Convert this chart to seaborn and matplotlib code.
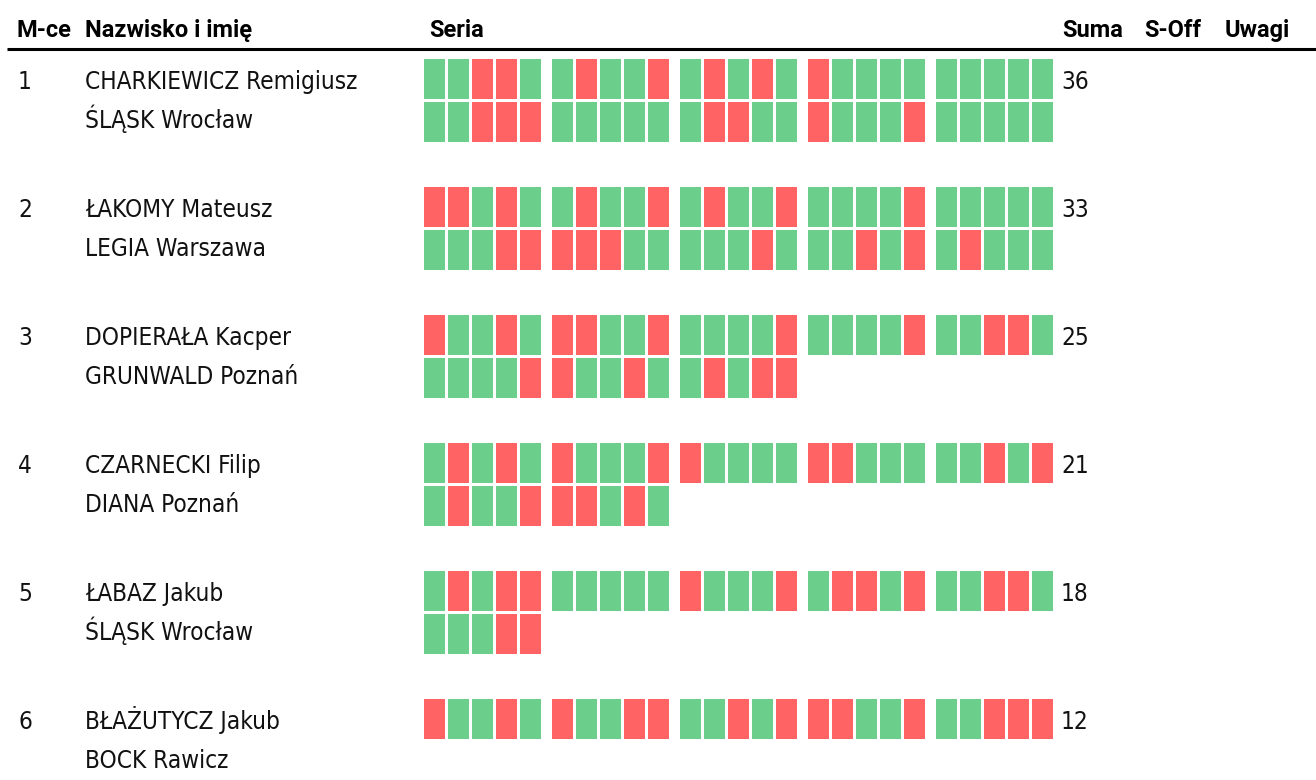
import matplotlib.pyplot as plt
import matplotlib.path as mpath
from matplotlib import font_manager
import seaborn as sns
import pandas as pd

# Results table (1 = hit, 0 = miss), each line is up to 25 shots in series of 5
ranks = ['1', '2', '3', '4', '5', '6']
names = ['CHARKIEWICZ Remigiusz', 'ŁAKOMY Mateusz', 'DOPIERAŁA Kacper',
         'CZARNECKI Filip', 'ŁABAZ Jakub', 'BŁAŻUTYCZ Jakub']
clubs = ['ŚLĄSK Wrocław', 'LEGIA Warszawa', 'GRUNWALD Poznań',
         'DIANA Poznań', 'ŚLĄSK Wrocław', 'BOCK Rawicz']
totals = [36, 33, 25, 21, 18, 12]

shots_1 = ['11001 10110 10101 01111 11111',
           '00101 10110 10110 11110 11111',
           '01101 00110 11110 11110 11001',
           '10101 01110 01111 00111 11010',
           '10100 11111 01110 10010 11001',
           '01101 01100 11010 00110 11000']
shots_2 = ['11000 11111 10011 01110 11111',
           '11100 00011 11101 11010 10111',
           '11110 01101 10100',
           '10110 00101',
           '11100',
           '']

headers = ['M-ce', 'Nazwisko i imię', 'Seria', 'Suma', 'S-Off', 'Uwagi']
header_x = [17, 85, 429, 1062, 1144, 1225]

GREEN = '#6bce8b'
RED = '#ff6363'

# long-form table of shots
records = []
for r in range(len(ranks)):
    for line, seq in enumerate([shots_1[r], shots_2[r]]):
        for g, group in enumerate(seq.split()):
            for k, ch in enumerate(group):
                records.append({'row': r, 'line': line, 'series': g, 'shot': k,
                                'result': 'hit' if ch == '1' else 'miss'})
df = pd.DataFrame(records)

# pixel layout
df['x'] = 434.5 + df['series'] * 128 + df['shot'] * 24
df['y'] = 79 + df['row'] * 128 + df['line'] * 43

sns.set_style('white')

# pick a narrow body font if one is installed
installed = {f.name for f in font_manager.fontManager.ttflist}
cond = [f for f in font_manager.fontManager.ttflist
        if f.name == 'DejaVu Sans' and 'Condensed' in f.fname and f.weight in (400, 'normal')]
if 'Liberation Sans Narrow' in installed:
    body = dict(family=['Liberation Sans Narrow', 'DejaVu Sans'], fontsize=19)
elif cond:
    body = dict(family=['DejaVu Sans'], fontstretch='condensed', fontsize=17.5)
else:
    body = dict(family=['Roboto', 'DejaVu Sans'], fontsize=17)
print(body)

fig = plt.figure(figsize=(13.16, 7.8), dpi=100)
ax = fig.add_axes([0, 0, 1, 1])

# rectangular marker 21 x 40 px
w, h = 21 / 40 * 0.5, 0.5
rect = mpath.Path([(-w, -h), (w, -h), (w, h), (-w, h), (-w, -h)], closed=True)
size = (40 * 72 / 100) ** 2

sns.scatterplot(data=df, x='x', y='y', hue='result', palette={'hit': GREEN, 'miss': RED},
                marker=rect, s=size, linewidth=0, legend=False, ax=ax)

ax.set_xlim(0, 1316)
ax.set_ylim(780, 0)
ax.axis('off')

# header
for txt, hx in zip(headers, header_x):
    ax.text(hx, 37, txt, fontsize=17, fontweight='bold', family=['Roboto', 'DejaVu Sans'],
            ha='left', va='baseline', color='black')
ax.plot([7, 1316], [49, 49], color='black', lw=2.2, solid_capstyle='butt')

# rows
for r in range(len(ranks)):
    base = 89 + r * 128
    ax.text(18, base, ranks[r], ha='left', va='baseline', color='#111111', **body)
    ax.text(85, base, names[r], ha='left', va='baseline', color='#111111', **body)
    ax.text(85, base + 39, clubs[r], ha='left', va='baseline', color='#111111', **body)
    ax.text(1061, base, str(totals[r]), ha='left', va='baseline', color='#111111', **body)

plt.savefig('out.png', dpi=100)
